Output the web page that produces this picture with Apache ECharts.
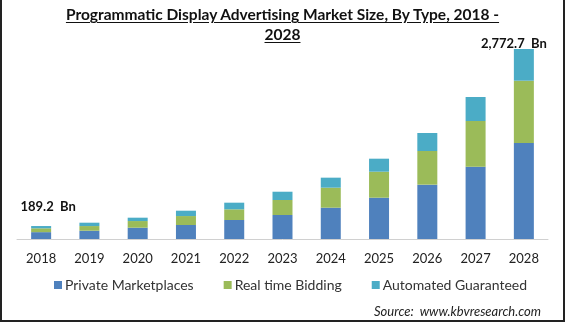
<!DOCTYPE html>
<html>
<head>
<meta charset="utf-8">
<script src="https://cdn.jsdelivr.net/npm/echarts@6/dist/echarts.min.js"></script>
<style>
html,body{margin:0;padding:0;background:#fff;}
#wrap{position:relative;width:565px;height:322px;overflow:hidden;}
#chart{position:absolute;left:0;top:0;width:565px;height:322px;}
#title{position:absolute;left:0;width:565px;top:4px;text-align:center;font-family:Lato,sans-serif;font-weight:bold;font-size:15.5px;line-height:20px;color:#111;pointer-events:none;}
#title span{text-decoration:underline;text-underline-offset:2px;}
#frame{position:absolute;left:0;top:0;height:320px;border-left:2px solid #222;border-right:2px solid #222;border-bottom:2px solid #222;box-sizing:content-box;width:561px;pointer-events:none;}
</style>
</head>
<body>
<div id="wrap">
<div id="chart"></div>
<div id="title"><span>Programmatic Display Advertising Market Size, By Type, 2018 -</span><br><span>2028</span></div>
<div id="frame"></div>
</div>
<script>
const categories = ['2018','2019','2020','2021','2022','2023','2024','2025','2026','2027','2028'];
const privateMarketplaces = [100, 121, 165, 204, 277, 350, 457, 603, 793, 1055, 1401];
const realTimeBidding = [56, 68, 97, 131, 156, 219, 292, 379, 491, 667, 909];
const automatedGuaranteed = [33.2, 49, 49, 78, 97, 121, 146, 190, 263, 350, 462.7];
const seriesNames = ['Private Marketplaces', 'Real time Bidding', 'Automated Guaranteed'];
const colors = ['#4F81BD', '#9BBB59', '#4BACC6'];
const labelledIndices = [0, 10];

function total(i) {
  return privateMarketplaces[i] + realTimeBidding[i] + automatedGuaranteed[i];
}
function fmt(v) {
  return v.toLocaleString('en-US', {minimumFractionDigits: 1, maximumFractionDigits: 1}) + '  Bn';
}

const labelOffsets = {0: [7, -13], 10: [-10, 1]};
const topData = automatedGuaranteed.map((v, i) => {
  if (labelledIndices.indexOf(i) >= 0) {
    return {
      value: v,
      label: {
        show: true, position: 'top', distance: 0,
        offset: labelOffsets[i],
        formatter: () => fmt(total(i)),
        fontFamily: 'Lato, sans-serif', fontWeight: 'bold', fontSize: 13, color: '#111'
      }
    };
  }
  return v;
});

const chart = echarts.init(document.getElementById('chart'), null, {renderer: 'canvas'});
chart.setOption({
  animation: false,
  color: colors,
  grid: {left: 17, right: 17, top: 49, bottom: 83, containLabel: false},
  legend: {
    data: seriesNames,
    left: 49, top: 273,
    itemWidth: 8, itemHeight: 8, itemGap: 30,
    icon: 'rect',
    textStyle: {fontFamily: 'Lato, sans-serif', fontSize: 14, color: '#333', padding: [0, 0, 0, -2]}
  },
  graphic: [{
    type: 'text', right: 24, top: 305,
    style: {text: 'Source:  www.kbvresearch.com', fontFamily: 'Lato, sans-serif', fontStyle: 'italic', fontSize: 13, fill: '#222'}
  }],
  xAxis: {
    type: 'category', data: categories,
    axisLine: {lineStyle: {color: '#d0d0d0', width: 1}},
    axisTick: {show: false},
    axisLabel: {fontFamily: 'Lato, sans-serif', fontSize: 13, color: '#222', margin: 13}
  },
  yAxis: {type: 'value', show: false, min: 0, max: 'dataMax', splitLine: {show: false}},
  series: [
    {name: seriesNames[0], type: 'bar', stack: 't', barWidth: 20, data: privateMarketplaces},
    {name: seriesNames[1], type: 'bar', stack: 't', barWidth: 20, data: realTimeBidding},
    {name: seriesNames[2], type: 'bar', stack: 't', barWidth: 20, data: topData}
  ]
});
</script>
</body>
</html>
